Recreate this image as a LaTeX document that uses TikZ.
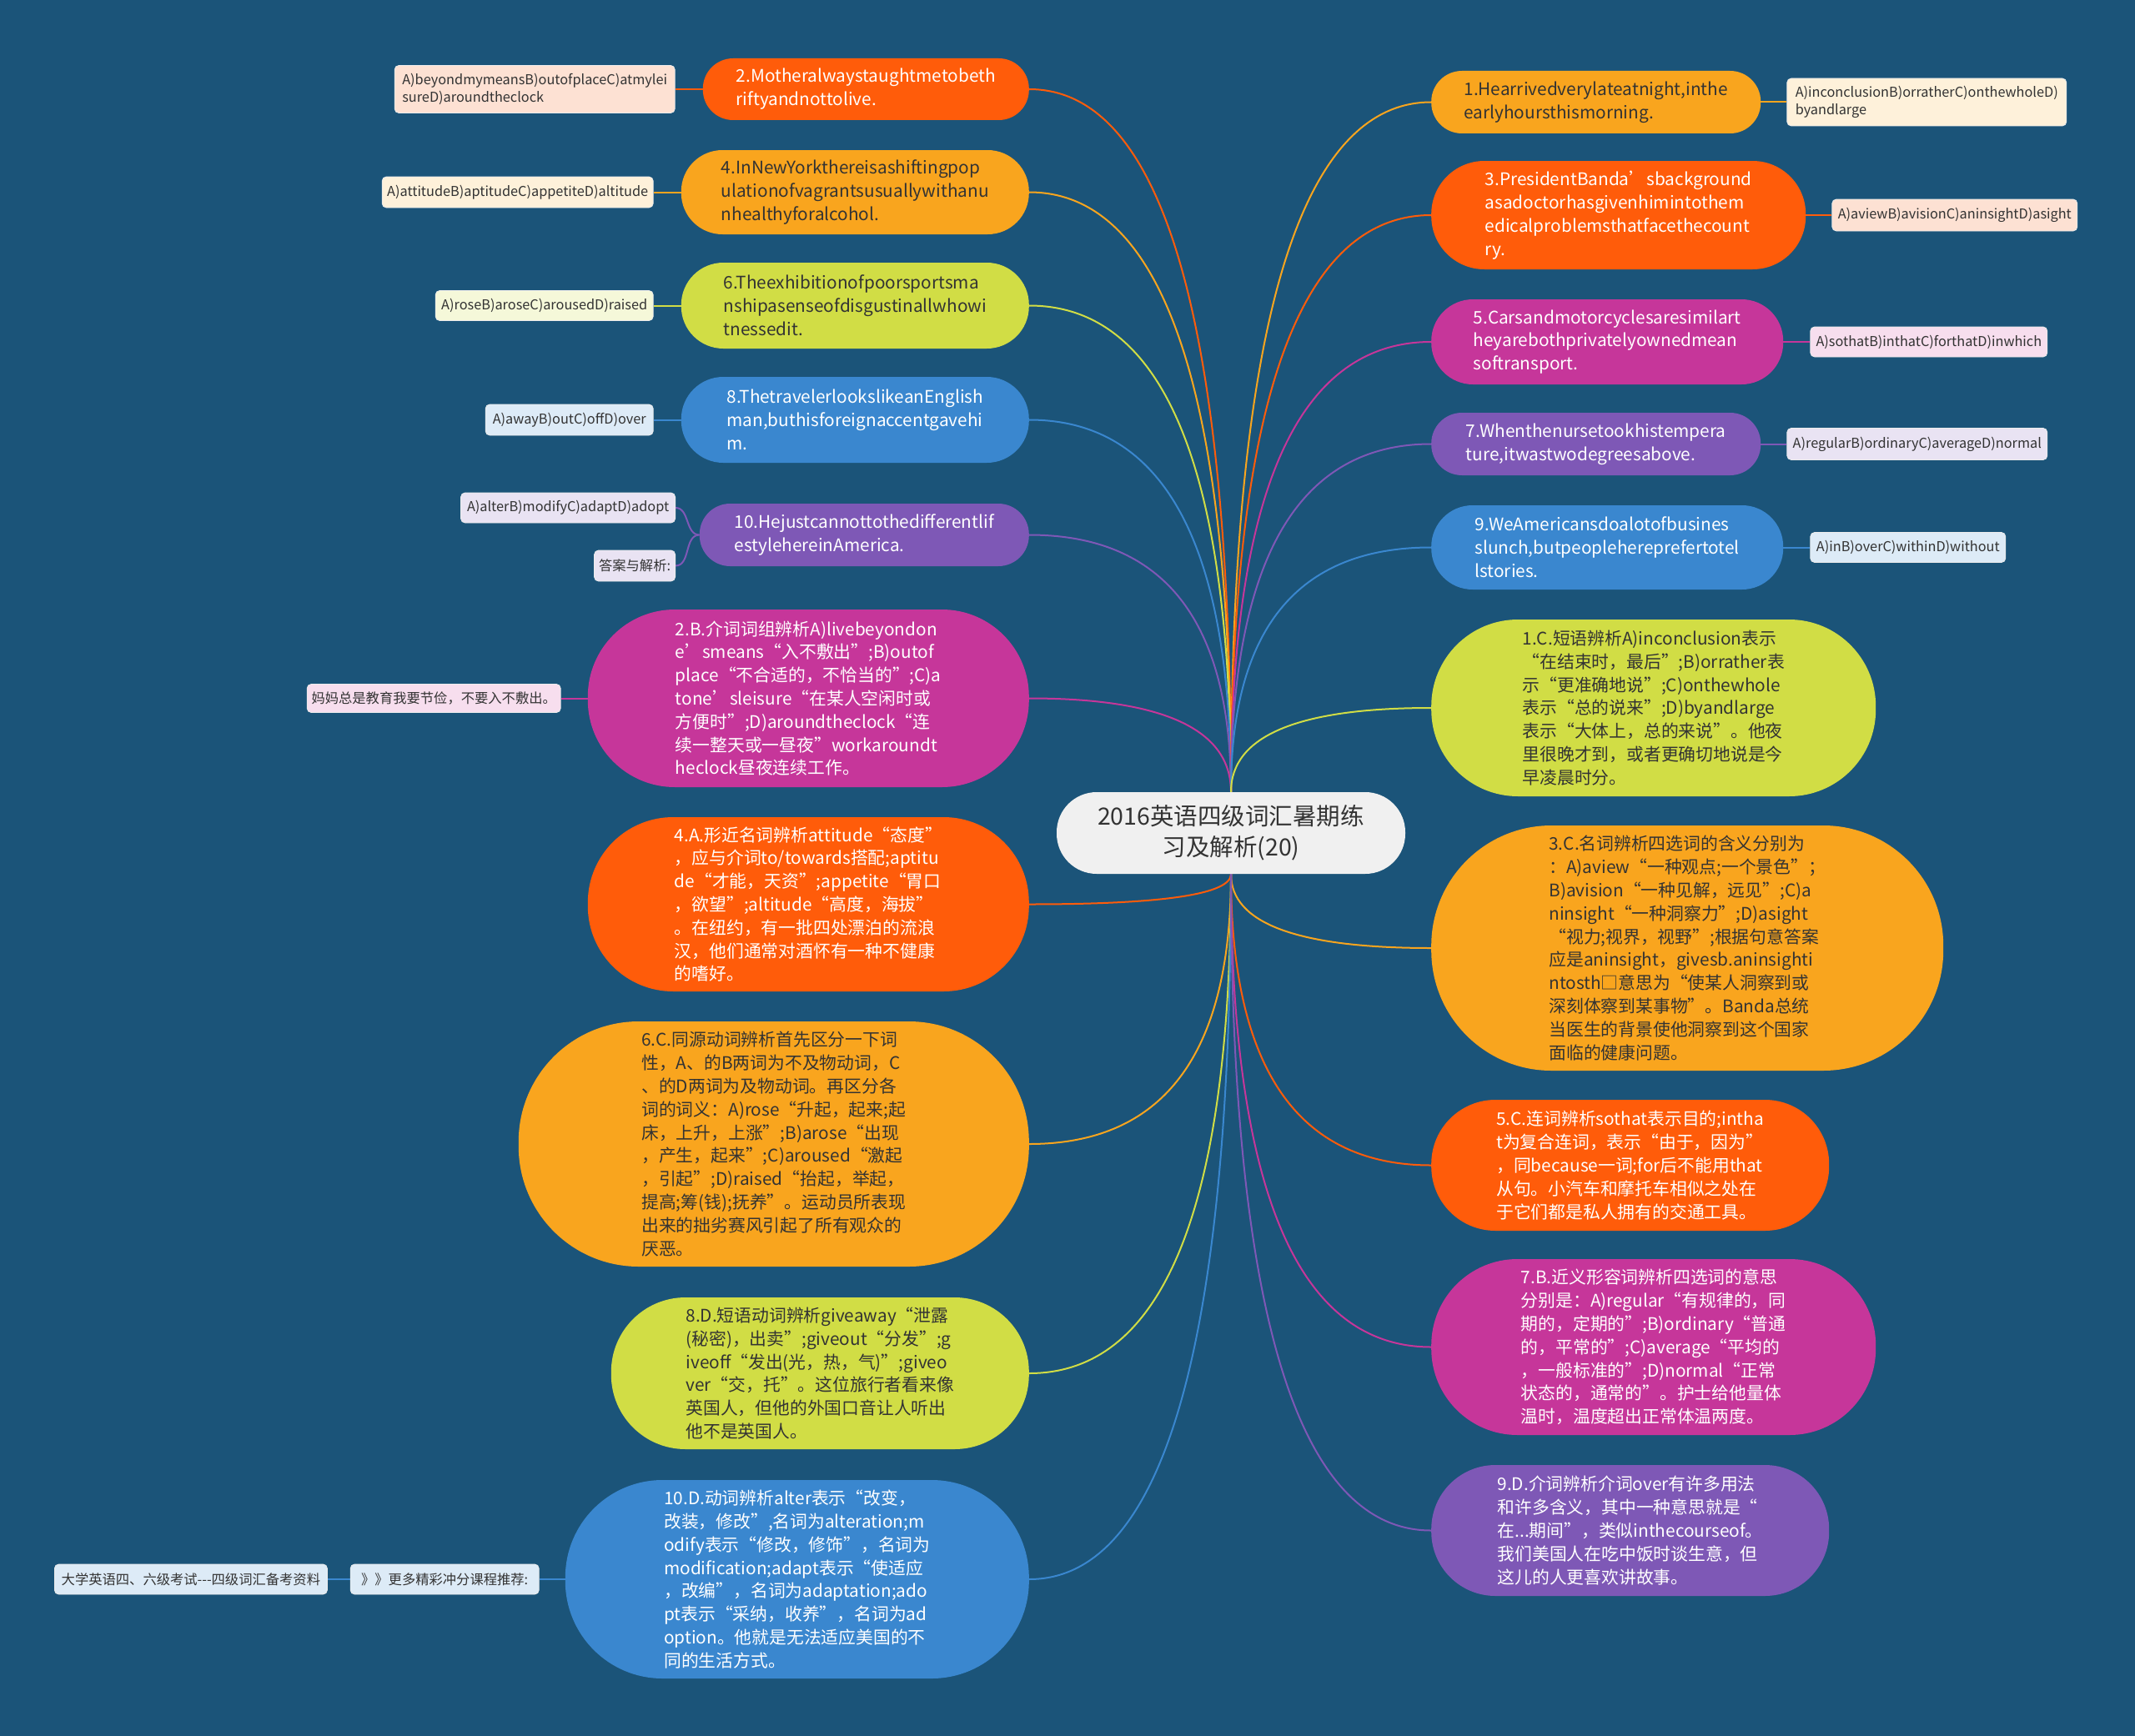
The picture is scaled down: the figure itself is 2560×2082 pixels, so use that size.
\documentclass[tikz,border=0pt]{standalone}
\usepackage{fontspec}
\setmainfont{Noto Sans CJK SC}
\usepackage{tikz}
\usetikzlibrary{positioning,calc,backgrounds}
\definecolor{MapBg}{HTML}{1B5479}
\definecolor{cRed}{HTML}{FF5C0A}
\definecolor{cOrange}{HTML}{F9A51E}
\definecolor{cGreen}{HTML}{D1DD45}
\definecolor{cBlue}{HTML}{3A87CF}
\definecolor{cPurple}{HTML}{7E58B6}
\definecolor{cMagenta}{HTML}{C6369A}
\definecolor{Ink}{HTML}{333333}
\definecolor{RootGrey}{HTML}{F0F0F0}
\definecolor{lRed}{HTML}{FDE1D3}
\definecolor{lOrange}{HTML}{FEF1DA}
\definecolor{lGreen}{HTML}{F5F8D9}
\definecolor{lBlue}{HTML}{DDEBF7}
\definecolor{lPurple}{HTML}{E9E3F3}
\definecolor{lMagenta}{HTML}{F7DEEE}
\pgfdeclarelayer{edges}
\pgfsetlayers{background,edges,main}
\tikzset{
  rootbox/.style={rectangle, fill=RootGrey, text=Ink, align=center, inner sep=0pt, minimum width=418pt, minimum height=98pt, rounded corners=48pt, font=\fontsize{28.5}{37}\selectfont},
  qbox/.style 2 args={rectangle, minimum width=#1pt, minimum height=#2pt, rounded corners=#2pt*0.49, align=left, inner sep=0pt, font=\fontsize{20.8}{27.8}\selectfont},
  onRed/.style={fill=cRed, text=white},
  onOrange/.style={fill=cOrange, text=Ink},
  onGreen/.style={fill=cGreen, text=Ink},
  onBlue/.style={fill=cBlue, text=white},
  onPurple/.style={fill=cPurple, text=white},
  onMagenta/.style={fill=cMagenta, text=white},
  leafbox/.style 2 args={rectangle, rounded corners=5pt, draw=white!85!gray, line width=0.8pt, text=Ink, align=left, inner xsep=5pt, inner ysep=2pt, minimum width=#1pt, minimum height=#2pt, font=\fontsize{16.3}{21}\selectfont},
  link/.style={draw=#1, line width=2pt}
}
\begin{document}
\begin{tikzpicture}[x=1pt, y=-1pt]
\useasboundingbox (0,0) rectangle (2560,2082);
\begin{pgfonlayer}{background}
\fill[MapBg] (0,0) rectangle (2560,2082);
\end{pgfonlayer}

\node[rootbox] (root) at (1476,999) {2016英语四级词汇暑期练\\习及解析(20)};

% left side: questions
\node[qbox={391}{74}, onRed, anchor=east] (q2) at (1234,107) {2.Motheralwaystaughtmetobeth\\riftyandnottolive.};
\node[qbox={417}{101}, onOrange, anchor=east] (q4) at (1234,230.5) {4.InNewYorkthereisashiftingpop\\ulationofvagrantsusuallywithanu\\nhealthyforalcohol.};
\node[qbox={417}{103}, onGreen, anchor=east] (q6) at (1234,366.5) {6.Theexhibitionofpoorsportsma\\nshipasenseofdisgustinallwhowi\\tnessedit.};
\node[qbox={417}{103}, onBlue, anchor=east] (q8) at (1234,503.5) {8.ThetravelerlookslikeanEnglish\\man,buthisforeignaccentgavehi\\m.};
\node[qbox={395}{75}, onPurple, anchor=east] (q10) at (1234,641.5) {10.Hejustcannottothedifferentlif\\estylehereinAmerica.};

\node[leafbox={336}{57}, fill=lRed, left=33pt of q2] (q2a) {A)beyondmymeansB)outofplaceC)atmylei\\sureD)aroundtheclock};
\node[leafbox={325}{37}, fill=lOrange, left=33pt of q4] (q4a) {A)attitudeB)aptitudeC)appetiteD)altitude};
\node[leafbox={261}{36}, fill=lGreen, left=33pt of q6] (q6a) {A)roseB)aroseC)arousedD)raised};
\node[leafbox={201}{37}, fill=lBlue, left=33pt of q8] (q8a) {A)awayB)outC)offD)over};
\node[leafbox={257}{36}, fill=lPurple, anchor=east] (q10a) at (810,609) {A)alterB)modifyC)adaptD)adopt};
\node[leafbox={97}{37}, fill=lPurple, anchor=east] (q10b) at (810,678.5) {答案与解析:};

% left side: answers
\node[qbox={529}{213}, onMagenta, anchor=east] (a2) at (1234,837.5) {2.B.介词词组辨析A)livebeyondon\\e’smeans“入不敷出”;B)outof\\place“不合适的，不恰当的”;C)a\\tone’sleisure“在某人空闲时或\\方便时”;D)aroundtheclock“连\\续一整天或一昼夜”workaroundt\\heclock昼夜连续工作。};
\node[qbox={529}{209}, onRed, anchor=east] (a4) at (1234,1084.5) {4.A.形近名词辨析attitude“态度”\\，应与介词to/towards搭配;aptitu\\de“才能，天资”;appetite“胃口\\，欲望”;altitude“高度，海拔”\\。在纽约，有一批四处漂泊的流浪\\汉，他们通常对酒怀有一种不健康\\的嗜好。};
\node[qbox={612}{294}, onOrange, anchor=east] (a6) at (1234,1372) {6.C.同源动词辨析首先区分一下词\\性，A、的B两词为不及物动词，C\\、的D两词为及物动词。再区分各\\词的词义：A)rose“升起，起来;起\\床，上升，上涨”;B)arose“出现\\，产生，起来”;C)aroused“激起\\，引起”;D)raised“抬起，举起，\\提高;筹(钱);抚养”。运动员所表现\\出来的拙劣赛风引起了所有观众的\\厌恶。};
\node[qbox={501}{182}, onGreen, anchor=east] (a8) at (1234,1647) {8.D.短语动词辨析giveaway“泄露\\(秘密)，出卖”;giveout“分发”;g\\iveoff“发出(光，热，气)”;giveo\\ver“交，托”。这位旅行者看来像\\英国人，但他的外国口音让人听出\\他不是英国人。};
\node[qbox={556}{238}, onBlue, anchor=east] (a10) at (1234,1894) {10.D.动词辨析alter表示“改变，\\改装，修改”,名词为alteration;m\\odify表示“修改，修饰”，名词为\\modification;adapt表示“使适应\\，改编”，名词为adaptation;ado\\pt表示“采纳，收养”，名词为ad\\option。他就是无法适应美国的不\\同的生活方式。};

\node[leafbox={304}{34}, fill=lMagenta, left=32pt of a2] (a2l) {妈妈总是教育我要节俭，不要入不敷出。};
\node[leafbox={226}{36}, fill=lBlue, left=31pt of a10] (a10l) {》》更多精彩冲分课程推荐:};
\node[leafbox={327}{36}, fill=lBlue, left=27pt of a10l] (a10m) {大学英语四、六级考试-{}-{}-四级词汇备考资料};

% right side: questions
\node[qbox={395}{75}, onOrange, anchor=west] (q1) at (1716,122.5) {1.Hearrivedverylateatnight,inthe\\earlyhoursthismorning.};
\node[qbox={449}{130}, onRed, anchor=west] (q3) at (1716,258) {3.PresidentBanda’sbackground\\asadoctorhasgivenhimintothem\\edicalproblemsthatfacethecount\\ry.};
\node[qbox={422}{102}, onMagenta, anchor=west] (q5) at (1716,410) {5.Carsandmotorcyclesaresimilart\\heyarebothprivatelyownedmean\\softransport.};
\node[qbox={395}{75}, onPurple, anchor=west] (q7) at (1716,532.5) {7.Whenthenursetookhistempera\\ture,itwastwodegreesabove.};
\node[qbox={422}{101}, onBlue, anchor=west] (q9) at (1716,656.5) {9.WeAmericansdoalotofbusines\\slunch,butpeopleherepreferto%
tel\\lstories.};

\node[leafbox={335}{57}, fill=lOrange, right=31pt of q1] (q1a) {A)inconclusionB)orratherC)onthewholeD)\\byandlarge};
\node[leafbox={294}{38}, fill=lRed, right=31pt of q3] (q3a) {A)aviewB)avisionC)aninsightD)asight};
\node[leafbox={284}{36}, fill=lMagenta, right=32pt of q5] (q5a) {A)sothatB)inthatC)forthatD)inwhich};
\node[leafbox={312}{38}, fill=lPurple, right=31pt of q7] (q7a) {A)regularB)ordinaryC)averageD)normal};
\node[leafbox={234}{36}, fill=lBlue, right=32pt of q9] (q9a) {A)inB)overC)withinD)without};

% right side: answers
\node[qbox={533}{212}, onGreen, anchor=west] (a1) at (1716,849) {1.C.短语辨析A)inconclusion表示\\“在结束时，最后”;B)orrather表\\示“更准确地说”;C)onthewhole\\表示“总的说来”;D)byandlarge\\表示“大体上，总的来说”。他夜\\里很晚才到，或者更确切地说是今\\早凌晨时分。};
\node[qbox={614}{294}, onOrange, anchor=west] (a3) at (1716,1137) {3.C.名词辨析四选词的含义分别为\\：A)aview“一种观点;一个景色”；\\B)avision“一种见解，远见”;C)a\\ninsight“一种洞察力”;D)asight\\“视力;视界，视野”;根据句意答案\\应是aninsight，givesb.aninsighti\\ntosth□意思为“使某人洞察到或\\深刻体察到某事物”。Banda总统\\当医生的背景使他洞察到这个国家\\面临的健康问题。};
\node[qbox={477}{157}, onRed, anchor=west] (a5) at (1716,1397.5) {5.C.连词辨析sothat表示目的;intha\\t为复合连词，表示“由于，因为”\\，同because一词;for后不能用that\\从句。小汽车和摩托车相似之处在\\于它们都是私人拥有的交通工具。};
\node[qbox={533}{211}, onMagenta, anchor=west] (a7) at (1716,1615.5) {7.B.近义形容词辨析四选词的意思\\分别是：A)regular“有规律的，同\\期的，定期的”;B)ordinary“普通\\的，平常的”;C)average“平均的\\，一般标准的”;D)normal“正常\\状态的，通常的”。护士给他量体\\温时，温度超出正常体温两度。};
\node[qbox={477}{157}, onPurple, anchor=west] (a9) at (1716,1835.5) {9.D.介词辨析介词over有许多用法\\和许多含义，其中一种意思就是“\\在...期间”，类似inthecourseof。\\我们美国人在吃中饭时谈生意，但\\这儿的人更喜欢讲故事。};

\begin{pgfonlayer}{edges}
\foreach \n/\c/\s in {q2/cRed/north, q4/cOrange/north, q6/cGreen/north, q8/cBlue/north, q10/cPurple/north, a2/cMagenta/north, a4/cRed/south, a6/cOrange/south, a8/cGreen/south, a10/cBlue/south}
  \draw[link=\c] (root.\s) .. controls ($(root.\s)!0.667!(root.\s |- \n.east)$) and ($(\n.east)!0.667!(root.\s |- \n.east)$) .. (\n.east);
\foreach \n/\c/\s in {q1/cOrange/north, q3/cRed/north, q5/cMagenta/north, q7/cPurple/north, q9/cBlue/north, a1/cGreen/north, a3/cOrange/south, a5/cRed/south, a7/cMagenta/south, a9/cPurple/south}
  \draw[link=\c] (root.\s) .. controls ($(root.\s)!0.667!(root.\s |- \n.west)$) and ($(\n.west)!0.667!(root.\s |- \n.west)$) .. (\n.west);
\foreach \a/\b/\c in {q2/q2a/cRed, q4/q4a/cOrange, q6/q6a/cGreen, q8/q8a/cBlue, a2/a2l/cMagenta, a10/a10l/cBlue, a10l/a10m/cBlue}
  \draw[link=\c] (\a.west) -- (\b.east);
\foreach \a/\b/\c in {q1/q1a/cOrange, q3/q3a/cRed, q5/q5a/cMagenta, q7/q7a/cPurple, q9/q9a/cBlue}
  \draw[link=\c] (\a.east) -- (\b.west);
\draw[link=cPurple] (q10.west) to[out=180,in=0] (q10a.east);
\draw[link=cPurple] (q10.west) to[out=180,in=0] (q10b.east);
\end{pgfonlayer}
\end{tikzpicture}
\end{document}
